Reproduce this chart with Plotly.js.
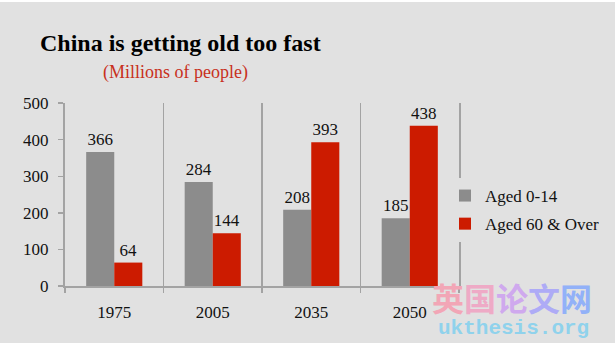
<!DOCTYPE html>
<html>
<head>
<meta charset="utf-8">
<script src="https://cdn.plot.ly/plotly-3.0.1.min.js"></script>
<style>
html,body{margin:0;padding:0;background:#ffffff;width:615px;height:348px;overflow:hidden;}
#chart{position:absolute;left:0;top:2px;width:615px;height:341px;}
</style>
</head>
<body>
<div id="chart"></div>
<script>
const years = ['1975', '2005', '2035', '2050'];
const aged0to14 = [366, 284, 208, 185];
const aged60over = [64, 144, 393, 438];
const seriesNames = ['Aged 0-14', 'Aged 60 & Over'];
const yTicks = [0, 100, 200, 300, 400, 500];

const serif = 'Liberation Serif, Times New Roman, serif';
const bg = '#e1e1e1';
const axisGray = '#a3a3a3';

const W = 615, H = 341, L = 65, R = 156, T = 101, B = 57;
const pw = W - L - R, ph = H - T - B;
function px(x) { return (x - L) / pw; }
function py(y) { return (H - B - (y - 2)) / ph; }

const traces = [
  {
    type: 'bar', x: years, y: aged0to14, name: seriesNames[0],
    marker: {color: '#8c8c8c'},
    text: aged0to14.map(String), textposition: 'outside',
    textfont: {family: serif, size: 17, color: '#111'},
    cliponaxis: false, legendgroup: 'a'
  },
  {
    type: 'bar', x: years, y: aged60over, name: seriesNames[1],
    marker: {color: '#cc1b00'},
    text: aged60over.map(String), textposition: 'outside',
    textfont: {family: serif, size: 17, color: '#111'},
    cliponaxis: false, legendgroup: 'b'
  }
];

const wmChars = ['英', '国', '论', '文', '网'];
const wmColors = ['#f2a6b6', '#eeaac6', '#cfa9ee', '#aeabf6', '#92b1f8'];
const wmText = wmChars.map((c, i) => '<span style="color:' + wmColors[i] + '">' + c + '</span>').join('');

const annotations = [
  {
    text: '(Millions of people)', xref: 'paper', yref: 'paper',
    x: px(175), y: py(72), xanchor: 'center', yanchor: 'middle',
    showarrow: false, font: {family: serif, size: 18, color: '#c8301c'}
  },
  {
    text: wmText, xref: 'paper', yref: 'paper',
    x: px(512), y: py(297), xanchor: 'center', yanchor: 'middle',
    showarrow: false, borderpad: 0,
    font: {family: 'Noto Sans CJK SC', size: 32, color: wmColors[0], weight: 'bold'}
  },
  {
    text: 'ukthesis.org', xref: 'paper', yref: 'paper',
    x: px(513), y: py(328), xanchor: 'center', yanchor: 'middle',
    showarrow: false, borderpad: 0,
    font: {family: 'Liberation Mono, monospace', size: 21, color: '#8fd2ec', weight: 'bold'}
  }
];

const layout = {
  width: W, height: H,
  paper_bgcolor: bg, plot_bgcolor: bg,
  margin: {l: L, r: R, t: T, b: B, autoexpand: false},
  title: {
    text: '<b>China is getting old too fast</b>',
    x: 40 / W, xanchor: 'left', xref: 'container',
    y: 1 - 41 / H, yanchor: 'middle', yref: 'container',
    font: {family: serif, size: 24, color: '#000'}
  },
  barmode: 'group', bargap: 0.43, bargroupgap: 0,
  xaxis: {
    type: 'category', tickson: 'boundaries',
    showgrid: true, gridcolor: axisGray, gridwidth: 1.4,
    showline: true, linecolor: axisGray, linewidth: 2,
    ticks: 'outside', ticklen: 5, tickcolor: axisGray, tickwidth: 1.4,
    tickfont: {family: serif, size: 17, color: '#111'},
    ticklabelstandoff: 10,
    zeroline: false, fixedrange: true
  },
  yaxis: {
    range: [0, 500], tickvals: yTicks, ticktext: yTicks.map(String),
    showgrid: false, zeroline: false,
    showline: true, linecolor: axisGray, linewidth: 2, mirror: true,
    ticks: 'outside', ticklen: 5, tickcolor: axisGray, tickwidth: 1.4,
    tickfont: {family: serif, size: 17, color: '#111'},
    ticklabelstandoff: 6,
    fixedrange: true
  },
  showlegend: true,
  legend: {
    x: px(445), xanchor: 'left', y: py(210), yanchor: 'middle',
    bgcolor: bg, borderwidth: 0,
    font: {family: serif, size: 17, color: '#111'},
    tracegroupgap: 3, itemclick: false
  },
  annotations: annotations
};

Plotly.newPlot('chart', traces, layout, {displayModeBar: false, staticPlot: true});
</script>
</body>
</html>
